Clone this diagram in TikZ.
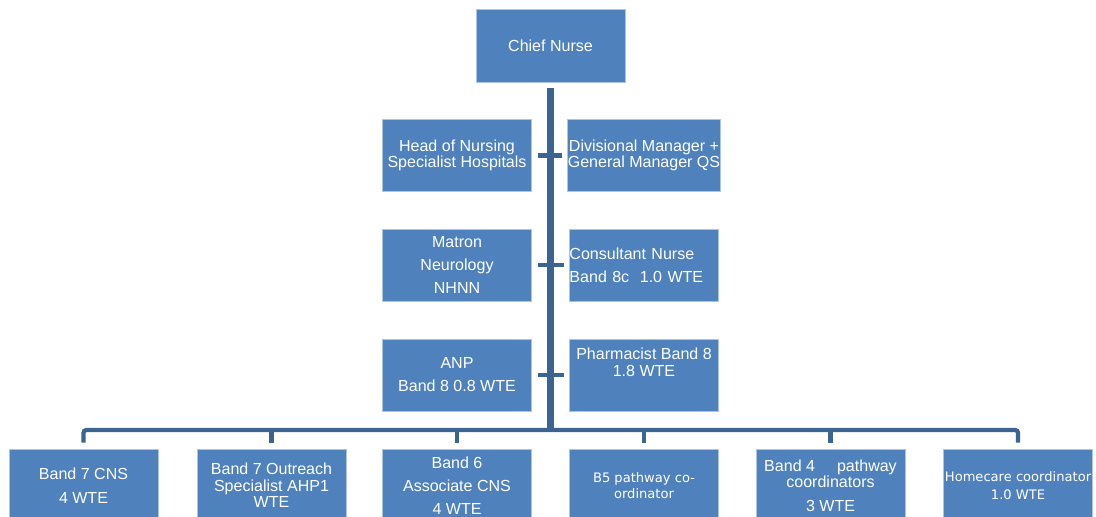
\documentclass[tikz,border=0pt]{standalone}
\usepackage{fontspec}
\setmainfont{Liberation Sans}
\newfontfamily\verdfont{DejaVu Sans}
\usepackage{tikz}
\usetikzlibrary{positioning}
\definecolor{boxblue}{RGB}{79,129,189}
\definecolor{boxedge}{RGB}{172,197,227}
\definecolor{linkblue}{RGB}{60,100,145}

\begin{document}
\begin{tikzpicture}[
    x=0.025cm, y=-0.025cm,
    post/.style={rectangle, draw=boxedge, line width=0.6pt, fill=boxblue, text=white, minimum width=3.725cm, minimum height=1.8cm, inner sep=0pt, align=center, font=\fontsize{11.4}{11.8}\selectfont},
    smallpost/.style={post, font=\verdfont\fontsize{9.3}{11.9}\selectfont},
    trunk/.style={draw=linkblue, line width=4.3pt},
    link/.style={draw=linkblue, line width=3pt},
]
    \useasboundingbox (0,0) rectangle (1096,517);
    \clip (0,0) rectangle (1096,517);

    % Top — Chief Nurse
    \node[post, minimum height=1.825cm] (chief) at (550.5, 45.5) {Chief Nurse};

    % Middle — two columns either side of the trunk
    \node[post] (head) at (457, 155.5) {Head of Nursing\\Specialist Hospitals};
    \node[post] (divmgr) at (644, 155.5) {Divisional Manager +\\General Manager QS};
    \node[post] (matron) at (457, 265) {Matron\\[4.6pt]Neurology\\[4.6pt]NHNN};
    \node[post, align=left, text width=3.725cm] (consult) at (644, 265) {Consultant Nurse\\[4.6pt]Band 8c\ \ 1.0 WTE};
    \node[post] (anp) at (457, 375) {ANP\\[4.6pt]Band 8 0.8 WTE};
    \node[post] (pharm) at (644, 375) {Pharmacist Band 8\\1.8 WTE\\[6.5pt]\mbox{}};

    % Bottom row — team
    \node[post, minimum height=1.825cm] (band7cns) at (83.5, 485.5) {Band 7 CNS\\[5.2pt]4 WTE};
    \node[post, minimum height=1.825cm] (outreach) at (271.5, 485.5) {Band 7 Outreach\\Specialist AHP1\\WTE};
    \node[post, minimum height=1.825cm] (band6) at (457, 485.5) {Band 6\\[4.6pt]Associate CNS\\[4.6pt]4 WTE};
    \node[smallpost, minimum height=1.825cm] (bfive) at (644, 485.5) {B5 pathway co-\\ordinator};
    \node[post, minimum height=1.825cm] (band4) at (830.5, 485.5) {Band 4\hspace{12.5pt} pathway\\coordinators\\[4.6pt]3 WTE};
    \node[smallpost, minimum height=1.825cm] (homecare) at (1018, 485.5) {Homecare coordinator\\[1pt]1.0 WTE};

    % Connectors
    \coordinate (hub) at (550.5, 430);
    \draw[trunk, shorten <=4.3pt] (chief) -- ([yshift=-1.5pt]hub);
    \draw[link, shorten <=4.3pt, shorten >=3.6pt] (head) -- (divmgr);
    \draw[link, shorten <=4.3pt, shorten >=3.6pt] (matron) -- (consult);
    \draw[link, shorten <=4.3pt, shorten >=3.6pt] (anp) -- (pharm);
    \draw[link, rounded corners=2pt, shorten <=4.3pt, shorten >=4.3pt] (band7cns) |- (hub) -| (homecare);
    \foreach \n in {outreach,band6,bfive,band4}
        \draw[link, shorten >=4.3pt] (hub -| \n) -- (\n);
\end{tikzpicture}
\end{document}
